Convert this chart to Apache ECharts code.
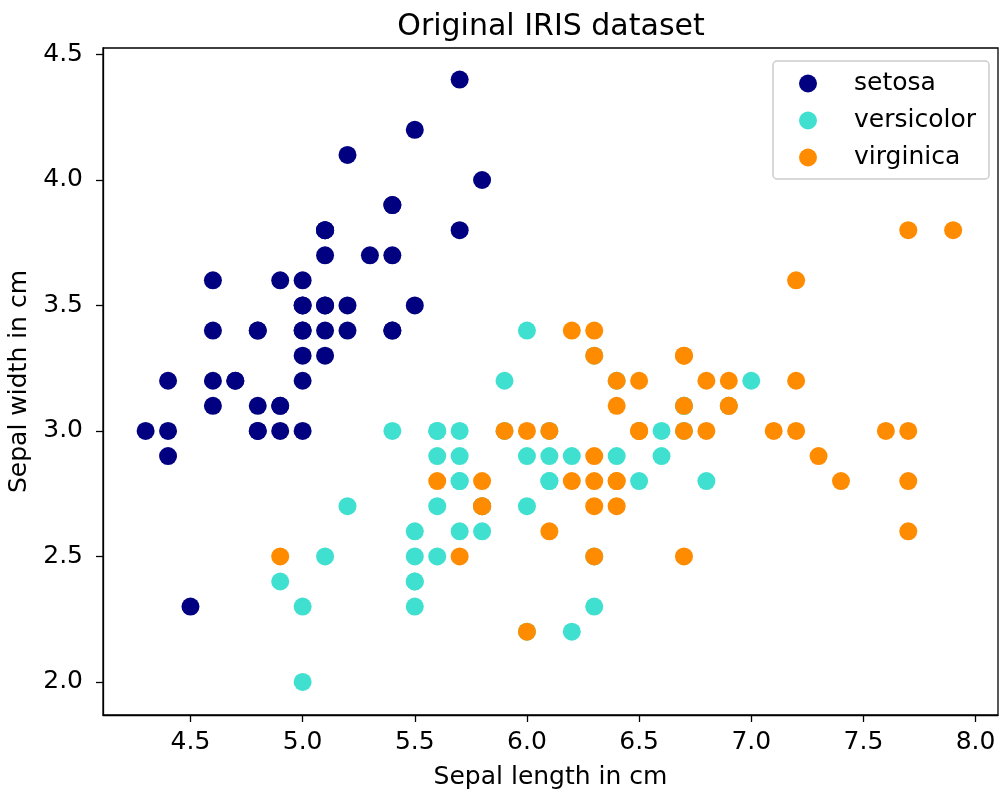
<!DOCTYPE html>
<html>
<head>
<meta charset="utf-8">
<script src="https://cdn.jsdelivr.net/npm/echarts@6/dist/echarts.min.js"></script>
<style>
html, body { margin: 0; padding: 0; background: #fff; }
#chart { width: 1000px; height: 792px; }
</style>
</head>
<body>
<div id="chart"></div>
<script>
// sepal length / sepal width
const setosa = [
  [5.1,3.5],[4.9,3.0],[4.7,3.2],[4.6,3.1],[5.0,3.6],[5.4,3.9],[4.6,3.4],[5.0,3.4],[4.4,2.9],[4.9,3.1],
  [5.4,3.7],[4.8,3.4],[4.8,3.0],[4.3,3.0],[5.8,4.0],[5.7,4.4],[5.4,3.9],[5.1,3.5],[5.7,3.8],[5.1,3.8],
  [5.4,3.4],[5.1,3.7],[4.6,3.6],[5.1,3.3],[4.8,3.4],[5.0,3.0],[5.0,3.4],[5.2,3.5],[5.2,3.4],[4.7,3.2],
  [4.8,3.1],[5.4,3.4],[5.2,4.1],[5.5,4.2],[4.9,3.1],[5.0,3.2],[5.5,3.5],[4.9,3.6],[4.4,3.0],[5.1,3.4],
  [5.0,3.5],[4.5,2.3],[4.4,3.2],[5.0,3.5],[5.1,3.8],[4.8,3.0],[5.1,3.8],[4.6,3.2],[5.3,3.7],[5.0,3.3]
];
const versicolor = [
  [7.0,3.2],[6.4,3.2],[6.9,3.1],[5.5,2.3],[6.5,2.8],[5.7,2.8],[6.3,3.3],[4.9,2.4],[6.6,2.9],[5.2,2.7],
  [5.0,2.0],[5.9,3.0],[6.0,2.2],[6.1,2.9],[5.6,2.9],[6.7,3.1],[5.6,3.0],[5.8,2.7],[6.2,2.2],[5.6,2.5],
  [5.9,3.2],[6.1,2.8],[6.3,2.5],[6.1,2.8],[6.4,2.9],[6.6,3.0],[6.8,2.8],[6.7,3.0],[6.0,2.9],[5.7,2.6],
  [5.5,2.4],[5.5,2.4],[5.8,2.7],[6.0,2.7],[5.4,3.0],[6.0,3.4],[6.7,3.1],[6.3,2.3],[5.6,3.0],[5.5,2.5],
  [5.5,2.6],[6.1,3.0],[5.8,2.6],[5.0,2.3],[5.6,2.7],[5.7,3.0],[5.7,2.9],[6.2,2.9],[5.1,2.5],[5.7,2.8]
];
const virginica = [
  [6.3,3.3],[5.8,2.7],[7.1,3.0],[6.3,2.9],[6.5,3.0],[7.6,3.0],[4.9,2.5],[7.3,2.9],[6.7,2.5],[7.2,3.6],
  [6.5,3.2],[6.4,2.7],[6.8,3.0],[5.7,2.5],[5.8,2.8],[6.4,3.2],[6.5,3.0],[7.7,3.8],[7.7,2.6],[6.0,2.2],
  [6.9,3.2],[5.6,2.8],[7.7,2.8],[6.3,2.7],[6.7,3.3],[7.2,3.2],[6.2,2.8],[6.1,3.0],[6.4,2.8],[7.2,3.0],
  [7.4,2.8],[7.9,3.8],[6.4,2.8],[6.3,2.8],[6.1,2.6],[7.7,3.0],[6.3,3.4],[6.4,3.1],[6.0,3.0],[6.9,3.1],
  [6.7,3.1],[6.9,3.1],[5.8,2.7],[6.8,3.2],[6.7,3.3],[6.7,3.0],[6.3,2.5],[6.5,3.0],[6.2,3.4],[5.9,3.0]
];
const seriesNames = ['setosa', 'versicolor', 'virginica'];
const seriesData = [setosa, versicolor, virginica];
const colors = ['#000080', '#40e0d0', '#ff8c00'];

const font = 'DejaVu Sans';
const fs = 25;

// hide labels that are not multiples of 0.5 (axis ends)
function tickFmt(v) {
  const r = Math.round(v * 2) / 2;
  return Math.abs(r - v) < 1e-6 ? r.toFixed(1) : '';
}

const chart = echarts.init(document.getElementById('chart'));
chart.setOption({
  backgroundColor: '#fff',
  animation: false,
  color: colors,
  title: {
    text: 'Original IRIS dataset',
    left: 551, textAlign: 'center',
    top: 12, padding: 0,
    textStyle: { fontFamily: font, fontSize: 30, fontWeight: 'normal', color: '#000' }
  },
  legend: {
    orient: 'vertical',
    left: 773, top: 61,
    padding: [10, 13, 9, 26],
    itemWidth: 18, itemHeight: 18, itemGap: 12,
    icon: 'circle',
    borderColor: '#cccccc', borderWidth: 1.5, borderRadius: 4,
    backgroundColor: 'rgba(255,255,255,0.8)',
    textStyle: { fontFamily: font, fontSize: fs, color: '#000', lineHeight: 25, padding: [0, 0, 0, 32] },
    data: seriesNames
  },
  grid: {
    left: 103, right: 2, top: 48, bottom: 77,
    containLabel: false, outerBoundsMode: 'none',
    show: true, borderColor: '#000', borderWidth: 1.3
  },
  xAxis: {
    type: 'value',
    min: 4.11, max: 8.10,
    splitNumber: 8,
    name: 'Sepal length in cm',
    nameLocation: 'middle', nameGap: 50,
    nameTextStyle: { fontFamily: font, fontSize: fs, color: '#000' },
    axisLine: { show: true, lineStyle: { color: '#000', width: 1.3 } },
    axisTick: { show: true, length: 7, lineStyle: { color: '#000', width: 1.3 } },
    axisLabel: { fontFamily: font, fontSize: fs, color: '#000', margin: 15, formatter: tickFmt,
                 showMinLabel: false, showMaxLabel: false },
    splitLine: { show: false }
  },
  yAxis: {
    type: 'value',
    min: 1.868, max: 4.526,
    splitNumber: 5,
    name: 'Sepal width in cm',
    nameLocation: 'middle', nameGap: 68,
    nameTextStyle: { fontFamily: font, fontSize: fs, color: '#000' },
    axisLine: { show: true, lineStyle: { color: '#000', width: 1.3 } },
    axisTick: { show: true, length: 7, lineStyle: { color: '#000', width: 1.3 } },
    axisLabel: { fontFamily: font, fontSize: fs, color: '#000', margin: 20, formatter: tickFmt,
                 showMinLabel: false, showMaxLabel: false },
    splitLine: { show: false }
  },
  series: seriesNames.map((name, i) => ({
    name: name,
    type: 'scatter',
    symbol: 'circle',
    symbolSize: 18,
    data: seriesData[i],
    itemStyle: { color: colors[i], opacity: 1 },
    emphasis: { disabled: true }
  }))
});
</script>
</body>
</html>
